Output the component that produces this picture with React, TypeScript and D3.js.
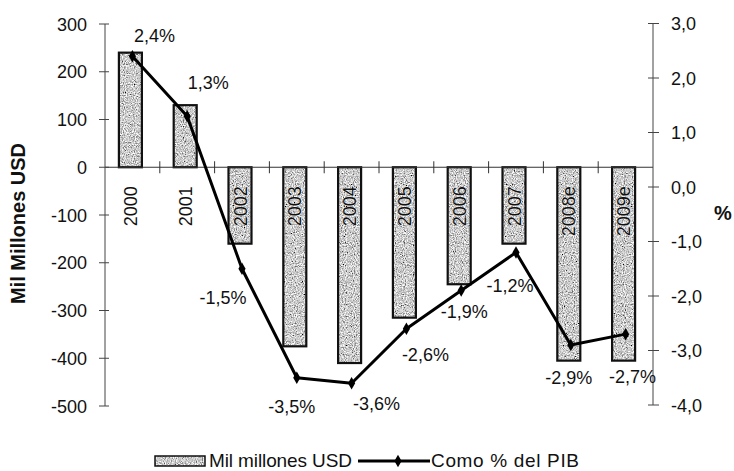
import React from "react";
import * as d3 from "d3";

const categories = ["2000", "2001", "2002", "2003", "2004", "2005", "2006", "2007", "2008e", "2009e"];
const usdValues = [240, 130, -160, -375, -410, -315, -245, -160, -405, -405];
const pctValues = [2.4, 1.3, -1.5, -3.5, -3.6, -2.6, -1.9, -1.2, -2.9, -2.7];
const leftTicks = [300, 200, 100, 0, -100, -200, -300, -400, -500];
const rightTicks = [3, 2, 1, 0, -1, -2, -3, -4];
const barSeriesName = "Mil millones USD";
const lineSeriesName = "Como % del PIB";
const leftTitle = "Mil Millones USD";
const rightTitle = "%";

// label placement offsets (px) relative to each point – layout only
const labelOffsets: [number, number][] = [
  [22, -21], [21, -34], [-19, 29], [-5, 29], [25, 20],
  [19, 26], [3, 21], [-6, 33], [-2, 32], [7, 42],
];

const W = 734;
const H = 471;
const X0 = 105;
const X1 = 653;
const FONT = "'Liberation Sans', Arial, sans-serif";

const fix = (s: string) => s.replace(/\u2212/g, "-").replace(".", ",");

export default function App() {
  const x = d3.scaleBand<string>().domain(categories).range([X0, X1]).padding(0);
  const yL = d3.scaleLinear().domain([-500, 300]).range([406, 24]);
  const yR = d3.scaleLinear().domain([-4, 3]).range([405, 23.5]);
  const bw = 23;
  const cx = (c: string) => (x(c) as number) + x.bandwidth() / 2;
  const fmtR = d3.format(".1f");
  const line = d3
    .line<number>()
    .x((_, i) => cx(categories[i]))
    .y((d) => yR(d));
  const diamond = d3.symbol().type(d3.symbolDiamond).size(45)();
  const zeroY = yL(0);

  return (
    <svg
      width={W}
      height={H}
      style={{ position: "absolute", left: 0, top: 0, background: "#fff" }}
      fontFamily={FONT}
    >
      <defs>
        <filter id="grain" filterUnits="objectBoundingBox" x="0" y="0" width="1" height="1">
          <feTurbulence type="fractalNoise" baseFrequency="0.9" numOctaves="2" seed="5" result="noise" />
          <feColorMatrix in="noise" type="saturate" values="0" result="g" />
          <feComponentTransfer in="g" result="g2">
            <feFuncR type="linear" slope="2.3" intercept="-0.55" />
            <feFuncG type="linear" slope="2.3" intercept="-0.55" />
            <feFuncB type="linear" slope="2.3" intercept="-0.55" />
            <feFuncA type="linear" slope="0" intercept="1" />
          </feComponentTransfer>
          <feComposite in="g2" in2="SourceGraphic" operator="in" />
        </filter>
      </defs>

      {/* bars */}
      {categories.map((c, i) => {
        const v = usdValues[i];
        const y0 = Math.min(yL(v), zeroY);
        const h = Math.abs(yL(v) - zeroY);
        const bx = cx(c) - 2 - bw / 2;
        return (
          <g key={c}>
            <rect x={bx} y={y0} width={bw} height={h} fill="#999" filter="url(#grain)" />
            <rect x={bx} y={y0} width={bw} height={h} fill="none" stroke="#111" strokeWidth={2.2} />
          </g>
        );
      })}

      {/* x axis at zero */}
      <line x1={X0} x2={X1} y1={zeroY} y2={zeroY} stroke="#333" strokeWidth={1.2} />
      {categories.slice(1).map((c) => (
        <line key={c} x1={x(c)} x2={x(c)} y1={zeroY - 6} y2={zeroY + 6} stroke="#333" strokeWidth={1} />
      ))}

      {/* category labels */}
      {categories.map((c) => {
        const tx = cx(c) - 2 + 6.5;
        const ty = zeroY + 19;
        return (
          <text
            key={c}
            transform={`translate(${tx},${ty}) rotate(-90)`}
            textAnchor="end"
            fontSize={18}
            fill="#111"
            stroke="#fff"
            strokeWidth={0.6}
            paintOrder="stroke"
          >
            {c}
          </text>
        );
      })}

      {/* left axis */}
      <line x1={X0} x2={X0} y1={yL(300)} y2={yL(-500)} stroke="#444" strokeWidth={1} />
      {leftTicks.map((t) => (
        <g key={t}>
          <line x1={X0 - 6} x2={X0 + 4} y1={yL(t)} y2={yL(t)} stroke="#444" strokeWidth={1} />
          <text x={87} y={yL(t) + 6.5} textAnchor="end" fontSize={18} fill="#111">
            {fix(d3.format("d")(t))}
          </text>
        </g>
      ))}
      <text
        transform={`translate(24.5,${223.5}) rotate(-90)`}
        textAnchor="middle"
        fontSize={20}
        fontWeight="bold"
        fill="#111"
      >
        {leftTitle}
      </text>

      {/* right axis */}
      <line x1={X1} x2={X1} y1={yR(3)} y2={yR(-4)} stroke="#444" strokeWidth={1} />
      {rightTicks.map((t) => (
        <g key={t}>
          <line x1={X1 - 5} x2={X1 + 6} y1={yR(t)} y2={yR(t)} stroke="#444" strokeWidth={1} />
          <text x={671} y={yR(t) + 6.5} textAnchor="start" fontSize={18} fill="#111">
            {fix(fmtR(t))}
          </text>
        </g>
      ))}
      <text x={723} y={220} textAnchor="middle" fontSize={20} fontWeight="bold" fill="#111">
        {rightTitle}
      </text>

      {/* line series */}
      <path d={line(pctValues) || ""} fill="none" stroke="#000" strokeWidth={3} strokeLinejoin="round" />
      {pctValues.map((v, i) => (
        <path key={i} d={diamond || ""} transform={`translate(${cx(categories[i])},${yR(v)})`} fill="#000" />
      ))}

      {/* data labels */}
      {pctValues.map((v, i) => (
        <text
          key={i}
          x={cx(categories[i]) + labelOffsets[i][0]}
          y={yR(v) + labelOffsets[i][1] + 6.5}
          textAnchor="middle"
          fontSize={18}
          fill="#111"
        >
          {fix(fmtR(v)) + "%"}
        </text>
      ))}

      {/* legend */}
      <rect x={155} y={456} width={50} height={10} fill="#999" filter="url(#grain)" />
      <rect x={155} y={456} width={50} height={10} fill="none" stroke="#111" strokeWidth={1.5} />
      <text x={209} y={467} fontSize={19} fill="#111" textLength={143} lengthAdjust="spacing">
        {barSeriesName}
      </text>
      <line x1={358} x2={430} y1={461} y2={461} stroke="#000" strokeWidth={3} />
      <path d={diamond || ""} transform="translate(398,461)" fill="#000" />
      <text x={431} y={467} fontSize={19} fill="#111" textLength={148} lengthAdjust="spacing">
        {lineSeriesName}
      </text>
    </svg>
  );
}
